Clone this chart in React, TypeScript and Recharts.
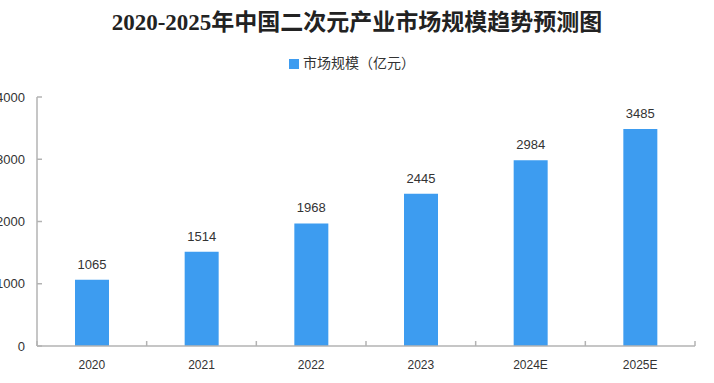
import { BarChart, Bar, XAxis, YAxis, Legend, LabelList } from "recharts"

const years = ["2020", "2021", "2022", "2023", "2024E", "2025E"]
const marketSize = [1065, 1514, 1968, 2445, 2984, 3485]
const yTicks = [0, 1000, 2000, 3000, 4000]

const chartData = years.map((year, i) => ({ year, size: marketSize[i] }))

const BLUE = "#3d9cf0"
const AXIS = "#b3b3b3"
const PLOT_W = 714 - 37 - 19
const X_MARGIN = 14

// category label at the centre, small inward tick at the band edges
const XTick = (props: any) => {
  const { x, y, payload, index } = props
  const half = payload?.offset || PLOT_W / years.length / 2
  const axisY = y - X_MARGIN
  return (
    <g>
      <line x1={x + half} x2={x + half} y1={axisY} y2={axisY - 5} stroke={AXIS} strokeWidth={1.5} />
      {index === 0 && (
        <line x1={x - half} x2={x - half} y1={axisY} y2={axisY - 5} stroke={AXIS} strokeWidth={1.5} />
      )}
      <text x={x} y={y} dy="0.71em" textAnchor="middle" fontSize={12} fill="#333">
        {payload.value}
      </text>
    </g>
  )
}

const App = () => {
  return (
    <div
      style={{
        position: "absolute",
        left: 0,
        top: 0,
        width: 714,
        height: 383,
        fontFamily: '"Liberation Sans", "Noto Sans CJK SC", sans-serif',
        overflow: "hidden",
      }}
    >
      <div
        style={{
          position: "absolute",
          top: 3,
          left: 0,
          width: 714,
          textAlign: "center",
          fontSize: 23,
          fontWeight: "bold",
          color: "#222",
          fontFamily: '"Liberation Serif", "Noto Sans CJK SC", serif',
        }}
      >
        2020-2025年中国二次元产业市场规模趋势预测图
      </div>

      <BarChart
        width={714}
        height={383}
        data={chartData}
        margin={{ top: 97, right: 19, bottom: 0, left: 0 }}
      >
        <XAxis
          dataKey="year"
          stroke={AXIS}
          strokeWidth={1.5}
          tickLine={false}
          tickSize={0}
          tick={<XTick />}
          tickMargin={X_MARGIN}
          height={37}
        />
        <YAxis
          domain={[0, 4000]}
          ticks={yTicks}
          width={37}
          stroke={AXIS}
          strokeWidth={1.5}
          tickSize={-5}
          tickMargin={17}
          tick={{ fill: "#333", fontSize: 13 }}
        />
        <Legend
          verticalAlign="middle"
          align="center"
          layout="horizontal"
          iconType="square"
          iconSize={10}
          wrapperStyle={{ top: 52, left: 0, width: 714 }}
          formatter={(value) => (
            <span style={{ color: "#333", fontSize: 14 }}>{value}</span>
          )}
        />
        <Bar
          dataKey="size"
          name="市场规模（亿元）"
          fill={BLUE}
          barSize={34}
          isAnimationActive={false}
        >
          <LabelList dataKey="size" position="top" offset={11} fill="#333" fontSize={13} />
        </Bar>
      </BarChart>
    </div>
  )
}

export default App
